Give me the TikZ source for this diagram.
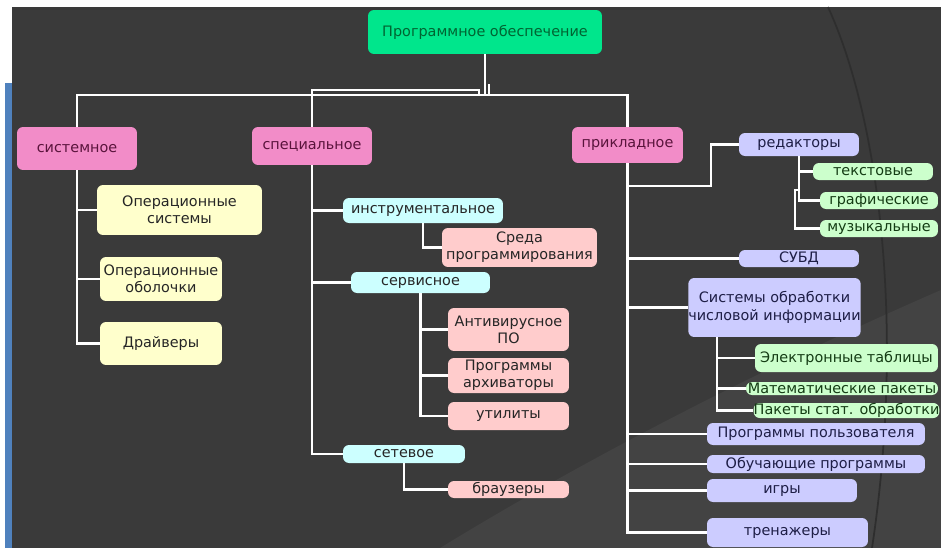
\documentclass[tikz,border=0pt]{standalone}
\usepackage{fontspec}
\setmainfont{DejaVu Sans}

\definecolor{fondo}{RGB}{58,58,58}
\definecolor{fondochiaro}{RGB}{67,67,67}
\definecolor{arco}{RGB}{46,46,46}
\definecolor{barra}{RGB}{79,129,189}
\definecolor{menta}{RGB}{0,230,140}
\definecolor{rosa}{RGB}{242,140,200}
\definecolor{giallo}{RGB}{255,255,204}
\definecolor{ciano}{RGB}{204,255,255}
\definecolor{salmone}{RGB}{255,204,204}
\definecolor{lavanda}{RGB}{204,204,255}
\definecolor{verdino}{RGB}{204,255,204}

\begin{document}
\begin{tikzpicture}[
  x=0.02cm, y=-0.02cm,
  font=\fontsize{8.2}{9.8}\selectfont,
  wire/.style={draw=white, line width=1.2pt},
  box/.style={rounded corners=0.12cm, inner sep=0pt, align=center, text=black!85},
  root/.style={box, fill=menta, text={rgb,255:red,0;green,100;blue,50}},
  area/.style={box, fill=rosa, text={rgb,255:red,90;green,20;blue,60}},
  sysleaf/.style={box, fill=giallo},
  spectype/.style={box, fill=ciano},
  specleaf/.style={box, fill=salmone},
  appleaf/.style={box, fill=lavanda, text={rgb,255:red,30;green,30;blue,70}},
  subleaf/.style={box, fill=verdino, text={rgb,255:red,20;green,60;blue,20}}
]

%--------------------------------------------------------------
% Sfondo
%--------------------------------------------------------------
\useasboundingbox (0,0) rectangle (941,548);
\fill[white] (0,0) rectangle (941,548);
\fill[fondo] (12,7) rectangle (941,548);
\fill[fondochiaro] (440,548) .. controls (600,450) and (780,360) .. (941,290) -- (941,548) -- cycle;
\fill[barra] (5,83) rectangle (12,548);
\draw[arco, line width=1pt] (828,7) .. controls (880,120) and (905,330) .. (872,548);

%--------------------------------------------------------------
% Nodi
%--------------------------------------------------------------
\node[root, minimum width=4.68cm, minimum height=0.88cm] (top) at (485,32) {Программное обеспечение};

\node[area, minimum width=2.40cm, minimum height=0.86cm] (sys) at (77,148.5) {системное};
\node[area, minimum width=2.40cm, minimum height=0.76cm] (spec) at (312,146) {специальное};
\node[area, minimum width=2.22cm, minimum height=0.72cm] (prikl) at (627.5,145) {прикладное};

% системное
\node[sysleaf, minimum width=3.30cm, minimum height=1.00cm] (os) at (179.5,210) {Операционные\\системы};
\node[sysleaf, minimum width=2.44cm, minimum height=0.88cm] (obol) at (161,279) {Операционные\\оболочки};
\node[sysleaf, minimum width=2.44cm, minimum height=0.86cm] (drv) at (161,343.5) {Драйверы};

% специальное
\node[spectype, minimum width=3.20cm, minimum height=0.50cm] (instr) at (423,210.5) {инструментальное};
\node[specleaf, minimum width=3.10cm, minimum height=0.78cm] (sreda) at (519.5,247.5) {Среда\\программирования};
\node[spectype, minimum width=2.78cm, minimum height=0.42cm] (serv) at (420.5,282.5) {сервисное};
\node[specleaf, minimum width=2.42cm, minimum height=0.86cm] (anti) at (508.5,329.5) {Антивирусное\\ПО};
\node[specleaf, minimum width=2.42cm, minimum height=0.70cm] (arch) at (508.5,375.5) {Программы\\архиваторы};
\node[specleaf, minimum width=2.42cm, minimum height=0.56cm] (util) at (508.5,416) {утилиты};
\node[spectype, minimum width=2.44cm, minimum height=0.36cm] (set) at (404,454) {сетевое};
\node[specleaf, minimum width=2.42cm, minimum height=0.34cm] (brow) at (508.5,489.5) {браузеры};

% прикладное
\node[appleaf, minimum width=2.40cm, minimum height=0.46cm] (red) at (799,144.5) {редакторы};
\node[subleaf, minimum width=2.40cm, minimum height=0.34cm] (txt) at (873,171.5) {текстовые};
\node[subleaf, minimum width=2.36cm, minimum height=0.34cm] (gra) at (879,200.5) {графические};
\node[subleaf, minimum width=2.36cm, minimum height=0.34cm] (mus) at (879,228.5) {музыкальные};
\node[appleaf, minimum width=2.40cm, minimum height=0.34cm] (subd) at (799,258.5) {СУБД};
\node[appleaf, minimum width=3.38cm, minimum height=1.18cm] (snum) at (774.5,307.5) {Системы обработки\\числовой информации};
\node[subleaf, minimum width=3.66cm, minimum height=0.56cm] (etab) at (846.5,358) {Электронные таблицы};
\node[subleaf, minimum width=3.84cm, minimum height=0.26cm] (math) at (842,388.5) {Математические пакеты};
\node[subleaf, minimum width=3.66cm, minimum height=0.30cm] (stat) at (846.5,410.5) {Пакеты стат. обработки};
\node[appleaf, minimum width=4.36cm, minimum height=0.44cm] (user) at (816,434) {Программы пользователя};
\node[appleaf, minimum width=4.36cm, minimum height=0.36cm] (edu) at (816,464) {Обучающие программы};
\node[appleaf, minimum width=3.00cm, minimum height=0.46cm] (game) at (782,490.5) {игры};
\node[appleaf, minimum width=3.22cm, minimum height=0.58cm] (trn) at (787.5,532.5) {тренажеры};

%--------------------------------------------------------------
% Collegamenti
%--------------------------------------------------------------
\coordinate (bus) at (485,95);
\coordinate (busspec) at (479,90);
\coordinate (tick) at (489,84);
\draw[wire] (top) -- (bus);
\draw[wire] (sys.north) |- (bus) -| (prikl.north);
\draw[wire] (spec.north) |- (busspec) -- (busspec |- bus);
\draw[wire] (tick) -- (tick |- bus);

\foreach \n in {os,obol,drv} \draw[wire] (sys.south) |- (\n.west);
\foreach \n in {instr,serv,set} \draw[wire] (spec.south) |- (\n.west);
\draw[wire] (instr.south) |- (sreda.west);
\foreach \n in {anti,arch,util} \draw[wire] (serv.south) |- (\n.west);
\draw[wire] (set.south) |- (brow.west);

\coordinate (redturn) at (711,186);
\draw[wire] (prikl.south) |- (redturn) |- (red.west);
\foreach \n in {subd,snum,user,edu,game,trn} \draw[wire] (prikl.south) |- (\n.west);
\draw[wire] (red.south) |- (txt.west);
\draw[wire] (red.south) |- (gra.west);
\coordinate (musturn) at (795,190);
\draw[wire] (red.south |- musturn) -- (musturn) |- (mus.west);
\coordinate (numroot) at (717,337);
\foreach \n in {etab,math,stat} \draw[wire] (numroot) |- (\n.west);

\end{tikzpicture}
\end{document}
